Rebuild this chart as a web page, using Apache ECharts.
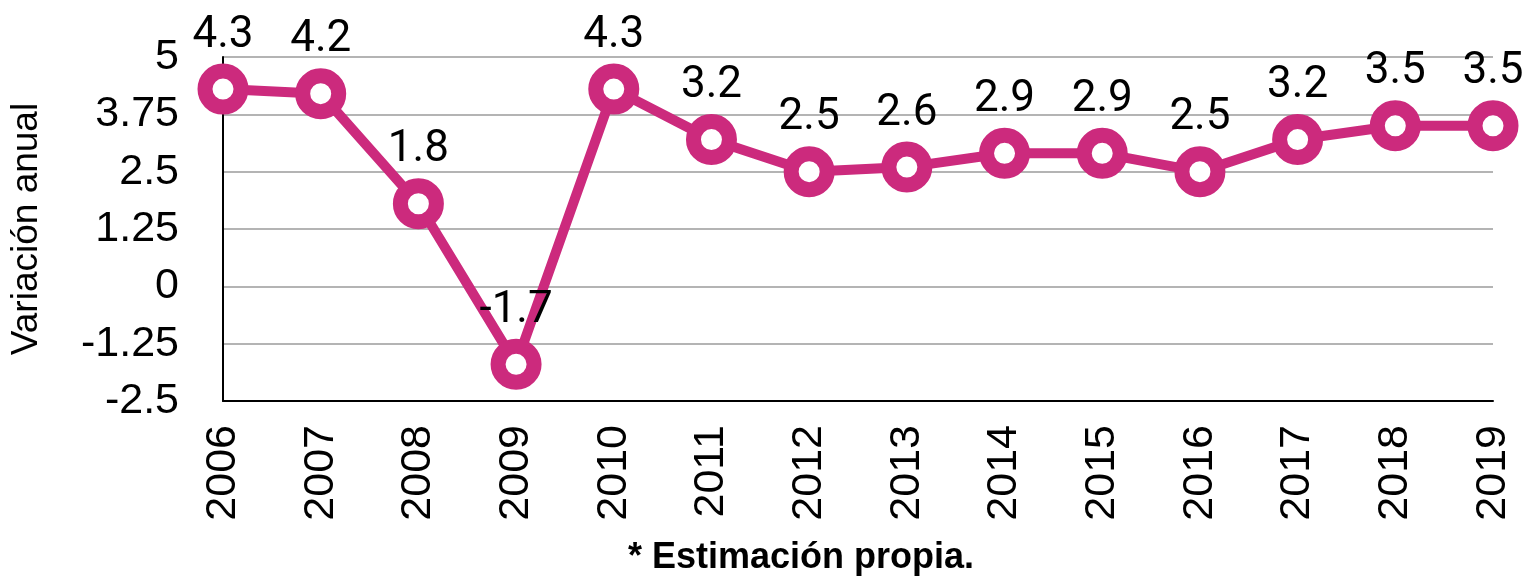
<!DOCTYPE html>
<html>
<head>
<meta charset="utf-8">
<script src="https://cdn.jsdelivr.net/npm/echarts@6/dist/echarts.min.js"></script>
<style>
  html, body { margin: 0; padding: 0; background: #fff; }
  #chart { width: 1540px; height: 576px; }
</style>
</head>
<body>
<div id="chart"></div>
<script>
var years = ['2006', '2007', '2008', '2009', '2010', '2011', '2012', '2013', '2014', '2015', '2016', '2017', '2018', '2019'];
var variacion = [4.3, 4.2, 1.8, -1.7, 4.3, 3.2, 2.5, 2.6, 2.9, 2.9, 2.5, 3.2, 3.5, 3.5];
var yAxisName = 'Variación anual';
var footNote = '* Estimación propia.';

window.onload = function() {
    var chart = echarts.init(document.getElementById('chart'));

    var option = {
        animation: false,
        grid: {
            left: 223,
            right: 47,
            top: 57,
            bottom: 175
        },
        xAxis: {
            type: 'category',
            boundaryGap: false,
            data: years,
            axisLine: { onZero: false, lineStyle: { color: '#000', width: 2 } },
            axisTick: { show: false },
            axisLabel: {
                rotate: 90,
                margin: 24,
                color: '#000',
                fontFamily: 'Liberation Sans',
                fontSize: 43
            }
        },
        yAxis: {
            type: 'value',
            min: -2.5,
            max: 5,
            interval: 1.25,
            name: yAxisName,
            nameLocation: 'middle',
            nameGap: 178,
            nameTextStyle: {
                color: '#000',
                fontFamily: 'Liberation Sans',
                fontSize: 37
            },
            axisLine: { show: true, lineStyle: { color: '#000', width: 2 } },
            axisTick: { show: false },
            axisLabel: {
                margin: 44,
                color: '#000',
                fontFamily: 'Liberation Sans',
                fontSize: 43
            },
            splitLine: { lineStyle: { color: '#b4b4b4', width: 2 } }
        },
        graphic: [{
            type: 'text',
            left: 628,
            top: 540,
            style: {
                text: footNote,
                fill: '#000',
                font: 'bold 36px "Liberation Sans"'
            }
        }],
        series: [{
            type: 'line',
            data: variacion,
            symbol: 'circle',
            symbolSize: 36,
            lineStyle: { color: '#cc2a7d', width: 10 },
            itemStyle: { color: '#ffffff', borderColor: '#cc2a7d', borderWidth: 15 },
            label: {
                show: true,
                position: 'top',
                distance: 6,
                color: '#000',
                fontFamily: 'Roboto',
                fontSize: 44
            }
        }]
    };

    chart.setOption(option);
};
</script>
</body>
</html>
